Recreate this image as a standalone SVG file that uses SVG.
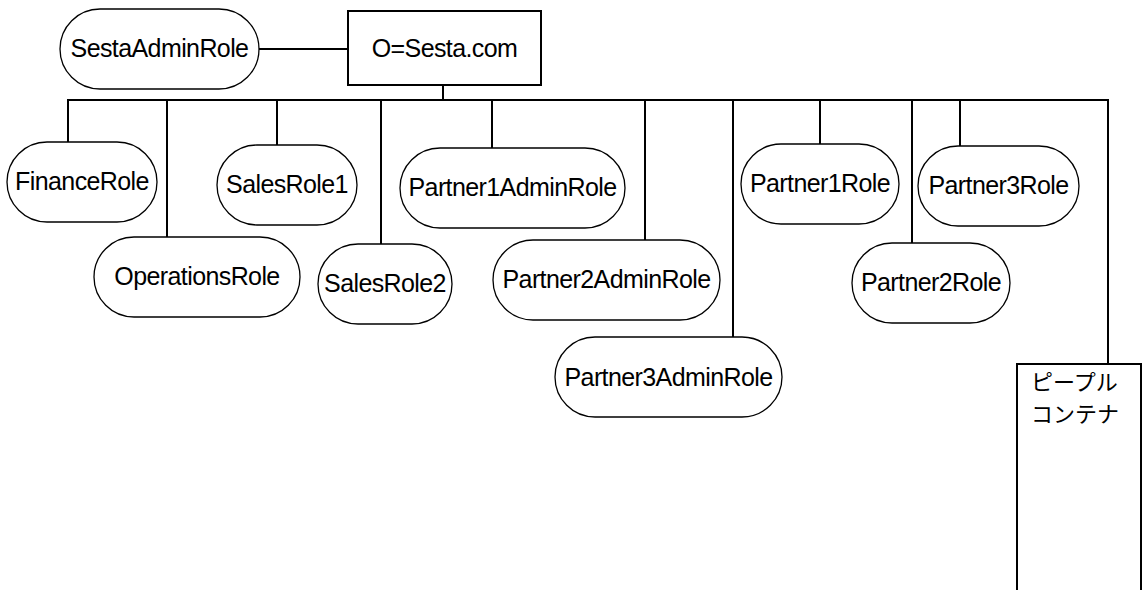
<svg xmlns="http://www.w3.org/2000/svg" width="1146" height="590" viewBox="0 0 1146 590">
<style>
.pill{fill:#fff;stroke:#000;stroke-width:1.3}
.box{fill:#fff;stroke:#000;stroke-width:2}
.t{font-family:"Liberation Sans",Arial,sans-serif;font-size:25px;fill:#000;text-anchor:middle;letter-spacing:-0.6px}
.j{font-family:"Noto Sans CJK JP","Liberation Sans",sans-serif;font-size:22px;fill:#000}
.c{stroke:#000;stroke-width:2;fill:none}
</style>
<rect width="1146" height="590" fill="#fff"/>
<g id="connectors">
<line class="c" x1="259" y1="49" x2="348" y2="49"/>
<line class="c" x1="443" y1="85" x2="443" y2="100"/>
<line class="c" x1="67" y1="100" x2="1109" y2="100"/>
<line class="c" x1="68" y1="100" x2="68" y2="142"/>
<line class="c" x1="167" y1="100" x2="167" y2="237"/>
<line class="c" x1="277" y1="100" x2="277" y2="145"/>
<line class="c" x1="381" y1="100" x2="381" y2="244"/>
<line class="c" x1="492" y1="100" x2="492" y2="148"/>
<line class="c" x1="645" y1="100" x2="645" y2="240"/>
<line class="c" x1="733" y1="100" x2="733" y2="337"/>
<line class="c" x1="820" y1="100" x2="820" y2="144"/>
<line class="c" x1="912" y1="100" x2="912" y2="243"/>
<line class="c" x1="960" y1="100" x2="960" y2="146"/>
<line class="c" x1="1108" y1="100" x2="1108" y2="364"/>
</g>
<g id="sestaadminrole"><rect class="pill" x="60" y="9" width="199" height="80" rx="40" ry="40"/><text class="t" x="159.5" y="57">SestaAdminRole</text></g>
<g id="root"><rect class="box" x="348" y="11" width="193" height="74"/><text class="t" x="444.5" y="57">O=Sesta.com</text></g>
<g id="financerole"><rect class="pill" x="7" y="142" width="150" height="80" rx="40" ry="40"/><text class="t" x="82" y="190">FinanceRole</text></g>
<g id="operationsrole"><rect class="pill" x="94" y="237" width="206" height="80" rx="40" ry="40"/><text class="t" x="197" y="285">OperationsRole</text></g>
<g id="salesrole1"><rect class="pill" x="217" y="145" width="140" height="80" rx="40" ry="40"/><text class="t" x="287" y="193">SalesRole1</text></g>
<g id="salesrole2"><rect class="pill" x="318" y="244" width="134" height="80" rx="40" ry="40"/><text class="t" x="385" y="292">SalesRole2</text></g>
<g id="partner1adminrole"><rect class="pill" x="400" y="148" width="225" height="80" rx="40" ry="40"/><text class="t" x="512.5" y="196">Partner1AdminRole</text></g>
<g id="partner2adminrole"><rect class="pill" x="493" y="240" width="227" height="80" rx="40" ry="40"/><text class="t" x="606.5" y="288">Partner2AdminRole</text></g>
<g id="partner3adminrole"><rect class="pill" x="555" y="337" width="227" height="80" rx="40" ry="40"/><text class="t" x="668.5" y="386">Partner3AdminRole</text></g>
<g id="partner1role"><rect class="pill" x="741" y="144" width="158" height="80" rx="40" ry="40"/><text class="t" x="820" y="192">Partner1Role</text></g>
<g id="partner2role"><rect class="pill" x="852" y="243" width="158" height="80" rx="40" ry="40"/><text class="t" x="931" y="291">Partner2Role</text></g>
<g id="partner3role"><rect class="pill" x="918" y="146" width="161" height="80" rx="40" ry="40"/><text class="t" x="998.5" y="194">Partner3Role</text></g>
<g id="peoplecontainer"><rect class="box" x="1017" y="364" width="124" height="240"/><text class="j" x="1031" y="390">ピープル</text><text class="j" x="1031" y="422">コンテナ</text></g>
</svg>
